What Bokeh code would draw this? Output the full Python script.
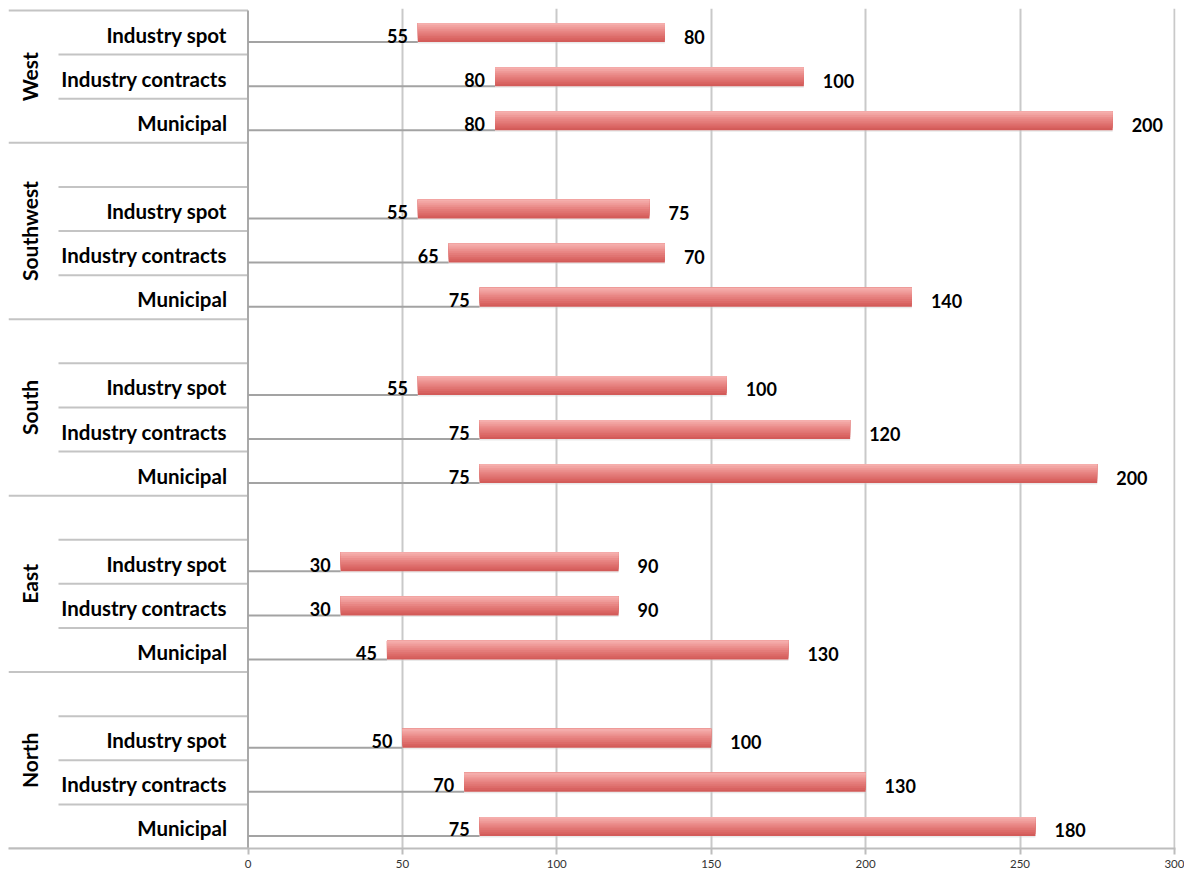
import math
from bokeh.plotting import figure
from bokeh.models import ColumnDataSource, FixedTicker
from bokeh.transform import dodge
from bokeh.core.properties import value
from bokeh.embed import file_html
from bokeh.resources import INLINE

# ---- data ----
regions = ["North", "East", "South", "Southwest", "West"]
subcats = ["Municipal", "Industry contracts", "Industry spot"]
start_municipal = [75, 45, 75, 75, 80]
start_contracts = [70, 30, 75, 65, 80]
start_spot = [50, 30, 55, 55, 55]
len_municipal = [180, 130, 200, 140, 200]
len_contracts = [130, 90, 120, 70, 100]
len_spot = [100, 90, 100, 75, 80]
x_ticks = [0, 50, 100, 150, 200, 250, 300]

starts_by_sub = [start_municipal, start_contracts, start_spot]
lens_by_sub = [len_municipal, len_contracts, len_spot]

# ---- build rows: each region gets its 3 categories + one blank slot (except last) ----
ys, lefts, rights, lengths, starts, cats = [], [], [], [], [], []
group_y, group_bounds, inner_bounds = [], [0], []
pos = 0
for ri, reg in enumerate(regions):
    n = len(subcats) + (1 if ri < len(regions) - 1 else 0)
    for si, sc in enumerate(subcats):
        s = starts_by_sub[si][ri]
        L = lens_by_sub[si][ri]
        ys.append(pos + si + 0.5)
        starts.append(s)
        lengths.append(L)
        lefts.append(s)
        rights.append(s + L)
        cats.append(sc)
    for k in range(1, n):
        inner_bounds.append(pos + k)
    group_y.append(pos + n / 2)
    pos += n
    group_bounds.append(pos)
n_rows = pos

src = ColumnDataSource(dict(y=ys, left=lefts, right=rights, start=starts,
                            length=lengths, cat=cats, zero=[0] * len(ys),
                            start_txt=[str(v) for v in starts],
                            len_txt=[str(v) for v in lengths]))

px_per_unit = 3.088
zero_px = 247.5 - 8          # zero position inside the frame
frame_w = 1167
frame_h = 840
row_px = 838 / n_rows
x0 = -zero_px / px_per_unit
x1 = (frame_w - zero_px) / px_per_unit

p = figure(width=1184, height=872, output_backend="svg", toolbar_location=None,
           x_range=(x0, x1), y_range=(0, frame_h / row_px),
           y_axis_location=None, min_border_left=8, min_border_right=9,
           min_border_top=8, min_border_bottom=24)
p.outline_line_color = None
p.background_fill_color = "white"
p.border_fill_color = "white"

# x axis
p.xaxis.ticker = FixedTicker(ticks=x_ticks)
p.xaxis.axis_line_color = "#bdbdbd"
p.xaxis.axis_line_width = 2
p.xaxis.major_tick_line_color = "#bdbdbd"
p.xaxis.major_tick_line_width = 2
p.xaxis.major_tick_out = 6
p.xaxis.major_tick_in = 0
p.xaxis.minor_tick_line_color = None
p.xaxis.major_label_standoff = 5
p.xaxis.major_label_text_font = "Lato"
p.xaxis.major_label_text_font_size = "11.5px"
p.xaxis.major_label_text_color = "#333333"

p.xgrid.ticker = FixedTicker(ticks=x_ticks[1:])
p.xgrid.grid_line_color = "#c9c9c9"
p.xgrid.grid_line_width = 2
p.ygrid.visible = False

# separators in category area
top = n_rows
p.segment(x0=[x0] * len(group_bounds), x1=[0] * len(group_bounds),
          y0=group_bounds, y1=group_bounds, line_color="#c4c4c4", line_width=2)
inner_x0 = (58 - 247.5) / px_per_unit
p.segment(x0=[inner_x0] * len(inner_bounds), x1=[0] * len(inner_bounds),
          y0=inner_bounds, y1=inner_bounds, line_color="#c4c4c4", line_width=2)
# zero axis line
p.segment(x0=[0], x1=[0], y0=[0], y1=[top], line_color="#a9a9a9", line_width=2)

# invisible base series border line (bottom of the transparent bar)
bar_h = 19 / row_px
p.segment(x0="zero", x1="start", y0=dodge("y", -bar_h / 2, range=None),
          y1=dodge("y", -bar_h / 2, range=None), source=src,
          line_color="#a3a3a3", line_width=2)

# soft shadow under the bars
p.hbar(y=dodge("y", -1.5 / row_px, range=None), left="left", right="right",
       height=bar_h, source=src, fill_color="#cfcfcf", fill_alpha=0.45, line_color=None)

# gradient bars: a full bar, then overlapping lighter layers from the top
band_colors = ["#d35b59", "#d86361", "#dd6b69", "#e07472", "#e47c7a",
               "#e88583", "#eb8f8d", "#ef9a98", "#f2a4a2", "#f5aeac"]
nb = len(band_colors)
for i, c in enumerate(band_colors):
    h = bar_h * (nb - i) / nb
    off = bar_h / 2 - h / 2
    p.hbar(y=dodge("y", off, range=None), left="left", right="right",
           height=h, source=src, fill_color=c, line_color=None)

# value labels
p.text(x="start", y="y", text="start_txt", source=src, x_offset=-10, y_offset=3,
       text_align="right", text_baseline="middle", text_font=value("Lato"),
       text_font_style="bold", text_font_size="18px", text_color="#000000")
p.text(x="right", y="y", text="len_txt", source=src, x_offset=19, y_offset=4,
       text_align="left", text_baseline="middle", text_font=value("Lato"),
       text_font_style="bold", text_font_size="18px", text_color="#000000")

# category labels
p.text(x="zero", y="y", text="cat", source=src, x_offset=-21, y_offset=2,
       text_align="right", text_baseline="middle", text_font=value("Lato"),
       text_font_style="bold", text_font_size="20.5px", text_color="#000000")
p.text(x=[0] * len(regions), y=group_y, text=regions, x_offset=-219,
       angle=math.pi / 2, text_align="center", text_baseline="middle",
       text_font=value("Lato"), text_font_style="bold", text_font_size="21px",
       text_color="#000000")

open("out.html", "w").write(file_html(p, INLINE))
